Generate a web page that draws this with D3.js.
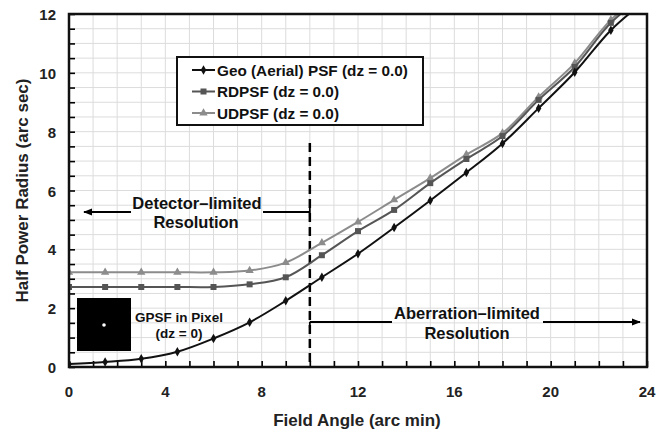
<!DOCTYPE html>
<html>
<head>
<meta charset="utf-8">
<script src="https://cdn.jsdelivr.net/npm/d3@7"></script>
<style>
  html, body { margin: 0; padding: 0; background: #fff; }
  svg { display: block; font-family: "Liberation Sans", Arial, sans-serif; font-weight: bold; }
</style>
</head>
<body>
<svg id="chart" width="663" height="435"></svg>
<script>
// ---- data ----
const fieldAngles = [0, 1.5, 3, 4.5, 6, 7.5, 9, 10.5, 12, 13.5, 15, 16.5, 18, 19.5, 21, 22.5, 24];
const geoPSF = [0.10, 0.17, 0.28, 0.52, 0.97, 1.52, 2.25, 3.05, 3.85, 4.74, 5.66, 6.61, 7.60, 8.80, 10.02, 11.45, 12.50];
const rdPSF  = [2.72, 2.72, 2.72, 2.72, 2.72, 2.81, 3.05, 3.80, 4.62, 5.34, 6.25, 7.07, 7.85, 9.08, 10.20, 11.70, 12.70];
const udPSF  = [3.22, 3.22, 3.22, 3.22, 3.22, 3.28, 3.55, 4.22, 4.93, 5.68, 6.42, 7.22, 7.95, 9.18, 10.33, 11.80, 12.75];
const seriesNames = ["Geo (Aerial) PSF (dz = 0.0)", "RDPSF (dz = 0.0)", "UDPSF (dz = 0.0)"];
const xTickLabels = [0, 4, 8, 12, 16, 20, 24];
const yTickLabels = [0, 2, 4, 6, 8, 10, 12];
const xTitle = "Field Angle (arc min)";
const yTitle = "Half Power Radius (arc sec)";
const boundaryAngle = 10;

// ---- layout ----
const svg = d3.select("#chart");
const L = 69, R = 647, T = 14, B = 367;
const x = d3.scaleLinear().domain([0, 24]).range([L, R]);
const y = d3.scaleLinear().domain([0, 12]).range([B, T]);

// grid
const grid = svg.append("g");
grid.selectAll("line.v").data(d3.range(1, 24, 1)).join("line")
  .attr("x1", d => x(d)).attr("x2", d => x(d)).attr("y1", T).attr("y2", B)
  .attr("stroke", "#dcdcdc").attr("stroke-width", 1);
grid.selectAll("line.h").data(d3.range(0.5, 12, 0.5)).join("line")
  .attr("y1", d => y(d)).attr("y2", d => y(d)).attr("x1", L).attr("x2", R)
  .attr("stroke", "#dcdcdc").attr("stroke-width", 1);

// axes with inward minor ticks
const xAxis = d3.axisBottom(x).tickValues(d3.range(0, 25, 1)).tickSize(-6).tickFormat("");
const yAxis = d3.axisLeft(y).tickValues(d3.range(0, 12.01, 0.5)).tickSize(-6).tickFormat("");
svg.append("g").attr("transform", `translate(0,${B})`).call(xAxis)
  .call(g => g.select(".domain").remove())
  .selectAll("line").attr("stroke", "#000").attr("stroke-width", 1.6);
svg.append("g").attr("transform", `translate(${L},0)`).call(yAxis)
  .call(g => g.select(".domain").remove())
  .selectAll("line").attr("stroke", "#000").attr("stroke-width", 1.6);

// tick labels
svg.append("g").selectAll("text").data(xTickLabels).join("text")
  .attr("x", d => x(d)).attr("y", B + 30)
  .attr("text-anchor", "middle").attr("font-size", 15).attr("fill", "#222")
  .text(d => d);
svg.append("g").selectAll("text").data(yTickLabels).join("text")
  .attr("x", L - 13).attr("y", d => y(d) + 6)
  .attr("text-anchor", "end").attr("font-size", 15).attr("fill", "#222")
  .text(d => d);

// axis titles
svg.append("text").attr("x", 357).attr("y", 426)
  .attr("text-anchor", "middle").attr("font-size", 17).attr("fill", "#222").text(xTitle);
svg.append("text").attr("transform", `translate(28,${(T + B) / 2}) rotate(-90)`)
  .attr("text-anchor", "middle").attr("font-size", 17).attr("fill", "#222").text(yTitle);

// clip
svg.append("clipPath").attr("id", "clip").append("rect")
  .attr("x", L).attr("y", T).attr("width", R - L).attr("height", B - T);

// inset image (black square with white dot)
svg.append("rect").attr("x", 77).attr("y", 298).attr("width", 54).attr("height", 53).attr("fill", "#000");
svg.append("circle").attr("cx", 104).attr("cy", 325).attr("r", 1.8).attr("fill", "#fff");
svg.append("text").attr("x", 179).attr("y", 322).attr("text-anchor", "middle")
  .attr("font-size", 13.5).attr("fill", "#111").text("GPSF in Pixel");
svg.append("text").attr("x", 179).attr("y", 338).attr("text-anchor", "middle")
  .attr("font-size", 13.5).attr("fill", "#111").text("(dz = 0)");

// dashed boundary
svg.append("line").attr("x1", x(boundaryAngle)).attr("x2", x(boundaryAngle))
  .attr("y1", 143).attr("y2", B)
  .attr("stroke", "#000").attr("stroke-width", 2.5).attr("stroke-dasharray", "9,5");

// arrow markers
const defs = svg.append("defs");
defs.append("marker").attr("id", "arr").attr("viewBox", "0 0 10 10")
  .attr("refX", 9).attr("refY", 5).attr("markerWidth", 9).attr("markerHeight", 9)
  .attr("markerUnits", "userSpaceOnUse").attr("orient", "auto-start-reverse")
  .append("path").attr("d", "M0,1 L10,5 L0,9 Z").attr("fill", "#000");

// Detector-limited annotation
svg.append("line").attr("x1", 131).attr("x2", 84).attr("y1", 212).attr("y2", 212)
  .attr("stroke", "#000").attr("stroke-width", 1.8).attr("marker-end", "url(#arr)");
svg.append("line").attr("x1", 263).attr("x2", x(boundaryAngle)).attr("y1", 212).attr("y2", 212)
  .attr("stroke", "#000").attr("stroke-width", 1.8);
svg.append("line").attr("x1", x(boundaryAngle)).attr("x2", x(boundaryAngle)).attr("y1", 207).attr("y2", 217)
  .attr("stroke", "#000").attr("stroke-width", 1.8);
svg.append("text").attr("x", 197).attr("y", 209).attr("text-anchor", "middle")
  .attr("font-size", 16.5).attr("fill", "#111").text("Detector\u2013limited");
svg.append("text").attr("x", 196).attr("y", 228).attr("text-anchor", "middle")
  .attr("font-size", 16.5).attr("fill", "#111").text("Resolution");

// Aberration-limited annotation
svg.append("line").attr("x1", x(boundaryAngle)).attr("x2", 392).attr("y1", 322).attr("y2", 322)
  .attr("stroke", "#000").attr("stroke-width", 1.8);
svg.append("line").attr("x1", x(boundaryAngle)).attr("x2", x(boundaryAngle)).attr("y1", 322).attr("y2", 328)
  .attr("stroke", "#000").attr("stroke-width", 1.8);
svg.append("line").attr("x1", 543).attr("x2", 640).attr("y1", 322).attr("y2", 322)
  .attr("stroke", "#000").attr("stroke-width", 1.8).attr("marker-end", "url(#arr)");
svg.append("text").attr("x", 467).attr("y", 319).attr("text-anchor", "middle")
  .attr("font-size", 16.5).attr("fill", "#111").text("Aberration\u2013limited");
svg.append("text").attr("x", 467).attr("y", 339).attr("text-anchor", "middle")
  .attr("font-size", 16.5).attr("fill", "#111").text("Resolution");

// series
const series = [
  { name: seriesNames[2], values: udPSF, color: "#8c8c8c", marker: d3.symbolTriangle, size: 30 },
  { name: seriesNames[1], values: rdPSF, color: "#555555", marker: d3.symbolSquare, size: 36 },
  { name: seriesNames[0], values: geoPSF, color: "#111111", marker: d3.symbolDiamond, size: 26 }
];
const lineGen = d3.line().x(d => x(d[0])).y(d => y(d[1])).curve(d3.curveCatmullRom.alpha(0.5));
const plot = svg.append("g").attr("clip-path", "url(#clip)");
series.forEach(s => {
  const pts = fieldAngles.map((a, i) => [a, s.values[i]]);
  plot.append("path").datum(pts).attr("d", lineGen)
    .attr("fill", "none").attr("stroke", s.color).attr("stroke-width", 2);
  plot.append("g").selectAll("path").data(pts).join("path")
    .attr("transform", d => `translate(${x(d[0])},${y(d[1])})`)
    .attr("d", d3.symbol().type(s.marker).size(s.size))
    .attr("fill", s.color);
});

// plot border
svg.append("rect").attr("x", L).attr("y", T).attr("width", R - L).attr("height", B - T)
  .attr("fill", "none").attr("stroke", "#111").attr("stroke-width", 2.5);

// legend
const lg = svg.append("g");
lg.append("rect").attr("x", 177).attr("y", 57).attr("width", 246).attr("height", 68)
  .attr("fill", "#fff").attr("stroke", "#111").attr("stroke-width", 2);
const legendItems = [series[2], series[1], series[0]];
legendItems.forEach((s, i) => {
  const yy = 70 + i * 21.5;
  lg.append("line").attr("x1", 192).attr("x2", 215).attr("y1", yy).attr("y2", yy)
    .attr("stroke", s.color).attr("stroke-width", 2);
  lg.append("path").attr("transform", `translate(203.5,${yy})`)
    .attr("d", d3.symbol().type(s.marker).size(s.size)).attr("fill", s.color);
  lg.append("text").attr("x", 217).attr("y", yy + 5.5).attr("font-size", 15.3)
    .attr("fill", "#111").text(s.name);
});
</script>
</body>
</html>
